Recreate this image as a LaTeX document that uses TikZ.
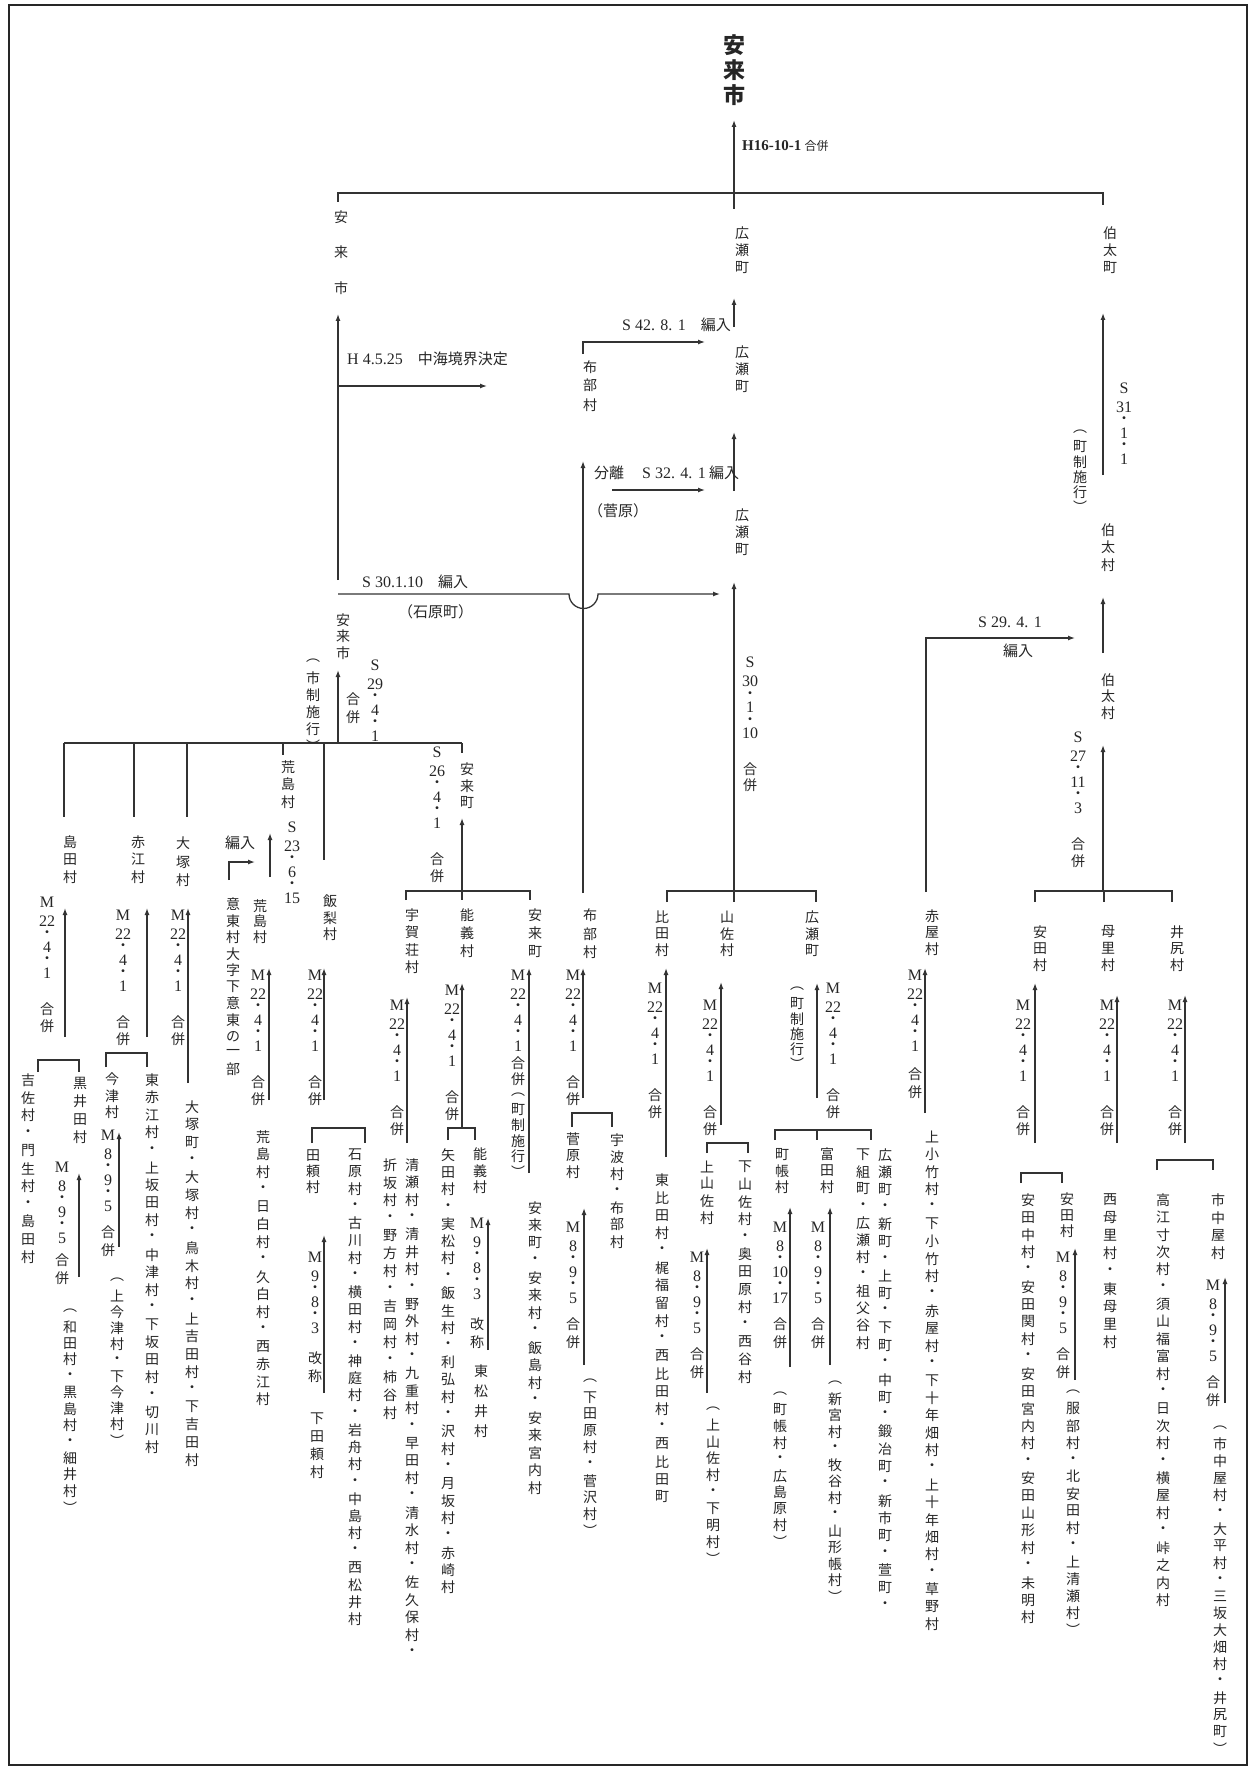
\documentclass[tikz,border=0pt]{standalone}
\usepackage{fontspec}
\setmainfont{Liberation Serif}
\newfontfamily\cjkf{Noto Sans CJK JP}
\usetikzlibrary{arrows.meta}
\newcommand\latf{\fontsize{16}{18}\selectfont\rmfamily}
\makeatletter
\vfuzz=\maxdimen \hfuzz=\maxdimen
\newdimen\vtPC \newdimen\vtPL \newdimen\vtPD \newdimen\vtW
\vtPC=17.5pt \vtPL=19pt \vtPD=7pt \vtW=14pt
\def\vt@box#1#2{\hbox to\vtW{\hss\vbox to#1{\vss\hbox{#2}\vss}\hss}}
\def\vt@one#1#2\@nil{%
  \ifx#1+\kern#2pt\relax
  \else\ifnum`#1="B7 \vt@box\vtPD{\cjkf ・}%
  \else\ifnum`#1>"2FFF \vt@box\vtPC{\cjkf #1#2}%
  \else\vt@box\vtPL{\latf #1#2}\fi\fi\fi}
\newcommand\vtx[2][17.5]{\vbox{\offinterlineskip\vtPC=#1pt\relax
  \@tfor\vt@c:=#2\do{\ifx\vt@c\@empty\vt@box\vtPC{}\else\expandafter\vt@one\vt@c\@empty\@nil\fi}}}
\makeatother
\tikzset{
  vt/.style={inner sep=0pt, anchor=north, text=black!85, font={\fontsize{14}{17}\cjkf}},
  hl/.style={inner sep=0pt, anchor=west, text=black!85, font={\fontsize{15}{17}\cjkf}},
  ln/.style={line width=1.3pt, draw=black!80},
  ar/.style={ln, -{Latex[length=7pt,width=5pt]}},
}
\newcommand\varr[4]{\coordinate (#1s) at (#2,#3); \coordinate (#1e) at (#2,#4); \draw[ar] (#1s) -- (#1e);}
\begin{document}
\begin{tikzpicture}[x=1pt,y=-1pt]
\useasboundingbox (0,0) rectangle (1249,1768);
\draw[line width=1.5pt, draw=black!85] (9,5) rectangle (1247,1765);

% ---------- top ----------
\node[vt, font={\fontsize{22}{25}\bfseries\cjkf}] (ttl) at (734,32) {\vtx[25]{安来市}};
\varr{a0}{734}{209}{120}
\node[hl] (lh16) at (742,146) {{\fontsize{15}{17}\selectfont\rmfamily\bfseries H16-10-1} {\fontsize{12}{14}\cjkf 合併}};
\coordinate (tb1) at (338,202); \coordinate (tb2) at (1103,205);
\draw[ln] (tb1) |- (1103,193) -- (tb2);

% ---------- left column top ----------
\node[vt] (yu1) at (341,199) {\vtx[35.5]{安来市}};
\varr{a1}{338}{580}{314}
\coordinate (h4s) at (338,386); \coordinate (h4e) at (487,386);
\draw[ar] (h4s) -- (h4e);
\node[hl] (lh4) at (347,359) {{\latf H 4.5.25}\quad 中海境界決定};
\coordinate (s30s) at (338,594); \coordinate (s30e) at (720,594);
\draw[ar] (s30s) -- (569,594) arc[start angle=180,end angle=0,radius=14.5] -- (s30e);
\node[hl] (ls30) at (362,582) {{\latf S 30.1.10}\quad 編入};
\node[hl] (lishi) at (398,612) {（石原町）};

% ---------- centre chain ----------
\node[vt] (hr1) at (742,225) {\vtx[17]{広瀬町}};
\varr{a2}{734}{327}{298}
\node[hl] (l42) at (622,325) {{\latf S 42. 8. 1}\quad 編入};
\node[vt] (hr2) at (742,343) {\vtx[17.5]{広瀬町}};
\coordinate (e42s) at (583,354); \coordinate (e42e) at (705,342);
\draw[ar] (e42s) |- (e42e);
\node[vt] (fb1) at (590,357) {\vtx[19]{布部村}};
\varr{a3}{734}{491}{432}
\node[hl] (lbunri) at (594,473) {分離};
\node[hl] (l32) at (642,473) {{\latf S 32. 4. 1} 編入};
\coordinate (e32s) at (612,490); \coordinate (e32e) at (705,490);
\draw[ar] (e32s) -- (e32e);
\node[hl] (lsuga) at (588,511) {（菅原）};
\node[vt] (hr3) at (742,506) {\vtx[17.5]{広瀬町}};
\varr{a4}{583}{893}{461}
\varr{a5}{734}{891}{582}
\node[vt] (l30) at (750,653) {\vtx[17]{S{30}·1·{10}{}合併}};

% ---------- Hirose group ----------
\draw[ln] (667,902) -- (667,891) -- (816,891) -- (816,902);
\draw[ln] (734,891) -- (734,902);
\node[vt] (hida) at (662,909) {\vtx[16.5]{比田村}};
\node[vt] (yasa) at (727,909) {\vtx[16.5]{山佐村}};
\node[vt] (hr4) at (812,909) {\vtx[16.5]{広瀬町}};
\varr{a6}{666}{1157}{968}
\node[vt] (lhida) at (655,978.5) {\vtx{M{22}·4·1{}合併}};
\node[vt] (hidal) at (662,1171) {\vtx[17.6]{東比田村・梶福留村・西比田村・西比田町}};
\varr{a7}{721}{1125}{982}
\node[vt] (lyasa) at (710,995.5) {\vtx{M{22}·4·1{}合併}};
\draw[ln] (707,1153) -- (707,1143) -- (748,1143) -- (748,1153);
\node[vt] (kyasa) at (707,1158) {\vtx[17]{上山佐村}};
\node[vt] (syasal) at (745,1158) {\vtx[17.5]{下山佐村・奥田原村・西谷村}};
\varr{a8}{707}{1393}{1248}
\node[vt] (lkyasa) at (697,1247.5) {\vtx{M8·9·5{+8}合併}};
\node[vt] (kyasal) at (713,1400) {\vtx[16.7]{︵上山佐村・下明村︶}};
\node[vt] (lcs1) at (797,981) {\vtx[15]{︵町制施行︶}};
\varr{a9}{817}{1098}{983}
\node[vt] (lhr4) at (833,978.5) {\vtx{M{22}·4·1{}合併}};
\draw[ln] (775,1140) -- (775,1130) -- (871,1130) -- (871,1140);
\draw[ln] (817,1130) -- (817,1140);
\node[vt] (mcho) at (782,1146) {\vtx[16.5]{町帳村}};
\node[vt] (tomi) at (827,1146) {\vtx[16.5]{富田村}};
\node[vt] (sgumi) at (863,1146) {\vtx[17.1]{下組町・広瀬村・祖父谷村}};
\node[vt] (hrmach) at (885,1146) {\vtx[17.3]{広瀬町・新町・上町・下町・中町・鍛冶町・新市町・萱町・}};
\varr{a10}{790}{1367}{1207}
\node[vt] (lmcho) at (780,1217.5) {\vtx{M8·{10}·{17}{+8}合併}};
\node[vt] (mchol) at (780,1385) {\vtx[16.5]{︵町帳村・広島原村︶}};
\varr{a11}{830}{1365}{1207}
\node[vt] (ltomi) at (818,1217.5) {\vtx{M8·9·5{+8}合併}};
\node[vt] (tomil) at (835,1374) {\vtx[16.5]{︵新宮村・牧谷村・山形帳村︶}};

% ---------- Fube ----------
\node[vt] (fb2) at (590,906) {\vtx[18.5]{布部村}};
\varr{a12}{583}{1098}{968}
\node[vt] (lfb2) at (573,965.5) {\vtx{M{22}·4·1{}合併}};
\draw[ln] (572,1127) -- (572,1113) -- (612,1113) -- (612,1127);
\node[vt] (suga) at (573,1131) {\vtx[16.5]{菅原村}};
\node[vt] (uba) at (617,1131) {\vtx[17]{宇波村・布部村}};
\varr{a13}{584}{1365}{1208}
\node[vt] (lsuga2) at (573,1217.5) {\vtx{M8·9·5{+8}合併}};
\node[vt] (sugal) at (590,1372) {\vtx[16.7]{︵下田原村・菅沢村︶}};

% ---------- Yasugi-cho group ----------
\node[vt] (ykm1) at (467,761) {\vtx[16.5]{安来町}};
\node[vt] (l26) at (437,742.5) {\vtx{S{26}·4·1{}合併}};
\varr{a14}{462}{891}{818}
\draw[ln] (406,900) -- (406,891) -- (530,891) -- (530,900);
\draw[ln] (462,891) -- (462,900);
\node[vt] (uga) at (412,906) {\vtx[17.5]{宇賀荘村}};
\node[vt] (nogi) at (467,906) {\vtx[18]{能義村}};
\node[vt] (ykm2) at (535,906) {\vtx[18]{安来町}};
\varr{a15}{407}{1143}{997}
\node[vt] (luga) at (397,995.5) {\vtx{M{22}·4·1{}合併}};
\node[vt] (ugal1) at (412,1156) {\vtx[17.4]{清瀬村・清井村・野外村・九重村・早田村・清水村・佐久保村・}};
\node[vt] (ugal2) at (390,1156) {\vtx[17.7]{折坂村・野方村・吉岡村・柿谷村}};
\varr{a16}{462}{1127}{983}
\node[vt] (lnogi) at (452,980.5) {\vtx{M{22}·4·1{}合併}};
\draw[ln] (448,1140) -- (448,1128) -- (475,1128) -- (475,1140);
\node[vt] (yada) at (448,1146) {\vtx[17.3]{矢田村・実松村・飯生村・利弘村・沢村・月坂村・赤崎村}};
\node[vt] (nogi2) at (480,1146) {\vtx[16.5]{能義村}};
\varr{a17}{488}{1350}{1218}
\node[vt] (lnogi2) at (477,1213.5) {\vtx{M9·8·3{+12}改称}};
\node[vt] (higa) at (481,1361) {\vtx[20]{東松井村}};
\varr{a18}{529}{1173}{968}
\node[vt] (lykm) at (518,965.5) {\vtx[15.5]{M{22}·4·1合併︵町制施行︶}};
\node[vt] (ykml) at (535,1199) {\vtx[17.5]{安来町・安来村・飯島村・安来宮内村}};

% ---------- Iinashi ----------
\draw[ln] (324,743) -- (324,860);
\node[vt] (iinashi) at (330,893) {\vtx[16.5]{飯梨村}};
\varr{a19}{324}{1100}{968}
\node[vt] (liina) at (315,965.5) {\vtx{M{22}·4·1{}合併}};
\draw[ln] (312,1143) -- (312,1128) -- (365,1128) -- (365,1143);
\node[vt] (tayori) at (313,1148) {\vtx[15.5]{田頼村}};
\node[vt] (ishi) at (355,1146) {\vtx[17.2]{石原村・古川村・横田村・神庭村・岩舟村・中島村・西松井村}};
\varr{a20}{324}{1393}{1235}
\node[vt] (ltayo) at (315,1247.5) {\vtx{M9·8·3{+12}改称}};
\node[vt] (stayo) at (317,1409) {\vtx[18]{下田頼村}};

% ---------- Arashima ----------
\draw[ln] (283,743) -- (283,755);
\node[vt] (ara1) at (288,758) {\vtx[17.5]{荒島村}};
\node[vt] (l23) at (292,817.5) {\vtx{S{23}·6·{15}}};
\varr{a21}{270}{877}{833}
\node[vt] (ara2) at (260,898) {\vtx[15.5]{荒島村}};
\node[vt] (itou) at (233,896) {\vtx[16.5]{意東村大字下意東の一部}};
\node[hl] (lhen) at (225,843) {編入};
\coordinate (eits) at (229,880); \coordinate (eite) at (255,862);
\draw[ar] (eits) |- (eite);
\varr{a22}{269}{1100}{968}
\node[vt] (lara) at (258,965.5) {\vtx{M{22}·4·1{}合併}};
\node[vt] (aral) at (263,1128) {\vtx[17.5]{荒島村・日白村・久白村・西赤江村}};

% ---------- left group ----------
\draw[ln] (64,743) -- (462,743);
\draw[ln] (64,743) -- (64,817);
\draw[ln] (134,743) -- (134,817);
\draw[ln] (187,743) -- (187,817);
\draw[ln] (462,743) -- (462,753);
\varr{a23}{338}{743}{670}
\node[vt] (yu2) at (343,611.5) {\vtx[16.5]{安来市}};
\node[vt] (lsisei) at (313,652) {\vtx[17]{︵市制施行︶}};
\node[vt] (lgp29) at (353,689) {\vtx[19]{合併}};
\node[vt] (l29) at (375,655.5) {\vtx{S{29}·4·1}};
\node[vt] (shima) at (70,833) {\vtx[17.5]{島田村}};
\node[vt] (akae) at (138,833) {\vtx[17.5]{赤江村}};
\node[vt] (otsu) at (183,834) {\vtx[18.5]{大塚村}};
\varr{a24}{65}{1037}{908}
\node[vt] (lshima) at (47,892.5) {\vtx{M{22}·4·1{}合併}};
\draw[ln] (38,1072) -- (38,1060) -- (79,1060) -- (79,1072);
\node[vt] (kisa) at (28,1071) {\vtx[17.7]{吉佐村・門生村・島田村}};
\node[vt] (kuroi) at (80,1074) {\vtx[18]{黒井田村}};
\varr{a25}{79}{1277}{1173}
\node[vt] (lkuroi) at (62,1157.5) {\vtx{M8·9·5{+4}合併}};
\node[vt] (kuroil) at (70,1302) {\vtx[16.4]{︵和田村・黒島村・細井村︶}};
\varr{a26}{147}{1037}{908}
\node[vt] (lakae) at (123,905.5) {\vtx{M{22}·4·1{}合併}};
\draw[ln] (106,1067) -- (106,1053) -- (147,1053) -- (147,1067);
\node[vt] (imazu) at (112,1071) {\vtx[16.5]{今津村}};
\node[vt] (higaka) at (152,1071) {\vtx[17.5]{東赤江村・上坂田村・中津村・下坂田村・切川村}};
\varr{a27}{119}{1247}{1132}
\node[vt] (limazu) at (108,1125.5) {\vtx{M8·9·5{+8}合併}};
\node[vt] (imazul) at (117,1272) {\vtx[16]{︵上今津村・下今津村︶}};
\varr{a28}{188}{1083}{908}
\node[vt] (lotsu) at (178,905.5) {\vtx{M{22}·4·1{}合併}};
\node[vt] (otsul) at (192,1098) {\vtx[17.65]{大塚町・大塚村・鳥木村・上吉田村・下吉田村}};

% ---------- right group ----------
\coordinate (e29s) at (926,892); \coordinate (e29e) at (1075,638);
\draw[ar] (e29s) |- (e29e);
\node[hl] (l29b) at (978,622) {\latf S 29. 4. 1};
\node[hl] (lhen2) at (1003,651) {編入};
\node[vt] (akaya) at (932,908) {\vtx[16.5]{赤屋村}};
\varr{a29}{925}{1113}{968}
\node[vt] (lakaya) at (915,965.5) {\vtx{M{22}·4·1{+10}合併}};
\node[vt] (akayal) at (932,1128) {\vtx[17.4]{上小竹村・下小竹村・赤屋村・下十年畑村・上十年畑村・草野村}};
\draw[ln] (1035,902) -- (1035,891) -- (1172,891) -- (1172,902);
\draw[ln] (1104,891) -- (1104,902);
\varr{a30}{1103}{891}{745}
\node[vt] (l27) at (1078,727.5) {\vtx{S{27}·{11}·3{}合併}};
\node[vt] (haku1) at (1108,671.5) {\vtx[16.5]{伯太村}};
\varr{a31}{1103}{653}{597}
\node[vt] (haku2) at (1108,521) {\vtx[17.5]{伯太村}};
\varr{a32}{1103}{475}{313}
\node[vt] (l31) at (1124,378.5) {\vtx{S{31}·1·1}};
\node[vt] (lcs2) at (1080,424) {\vtx[15]{︵町制施行︶}};
\node[vt] (hakum) at (1110,224.5) {\vtx[17]{伯太町}};
\node[vt] (yasu) at (1040,923.5) {\vtx[16.5]{安田村}};
\node[vt] (mori) at (1108,923.5) {\vtx[16.5]{母里村}};
\node[vt] (ijiri) at (1177,923.5) {\vtx[16.5]{井尻村}};
\varr{a33}{1035}{1143}{983}
\node[vt] (lyasu) at (1023,995.5) {\vtx{M{22}·4·1{}合併}};
\draw[ln] (1021,1183) -- (1021,1173) -- (1062,1173) -- (1062,1183);
\node[vt] (yasul) at (1028,1191) {\vtx[17.4]{安田中村・安田関村・安田宮内村・安田山形村・未明村}};
\node[vt] (yasu2) at (1067,1191) {\vtx[16]{安田村}};
\varr{a34}{1075}{1380}{1248}
\node[vt] (lyasu2) at (1063,1247.5) {\vtx{M8·9·5{+8}合併}};
\node[vt] (yasu2l) at (1073,1383) {\vtx[17]{︵服部村・北安田村・上清瀬村︶}};
\varr{a35}{1117}{1143}{995}
\node[vt] (lmori) at (1107,995.5) {\vtx{M{22}·4·1{}合併}};
\node[vt] (moril) at (1110,1191) {\vtx[17.75]{西母里村・東母里村}};
\varr{a36}{1185}{1143}{995}
\node[vt] (lijiri) at (1175,995.5) {\vtx{M{22}·4·1{}合併}};
\draw[ln] (1157,1170) -- (1157,1160) -- (1213,1160) -- (1213,1170);
\node[vt] (takae) at (1163,1191) {\vtx[17.4]{高江寸次村・須山福富村・日次村・横屋村・峠之内村}};
\node[vt] (ichinaka) at (1218,1191) {\vtx[17.7]{市中屋村}};
\varr{a37}{1225}{1403}{1277}
\node[vt] (lichi) at (1213,1275.5) {\vtx{M8·9·5{+8}合併}};
\node[vt] (ichil) at (1220,1419) {\vtx[16.9]{︵市中屋村・大平村・三坂大畑村・井尻町︶}};
\end{tikzpicture}
\end{document}
